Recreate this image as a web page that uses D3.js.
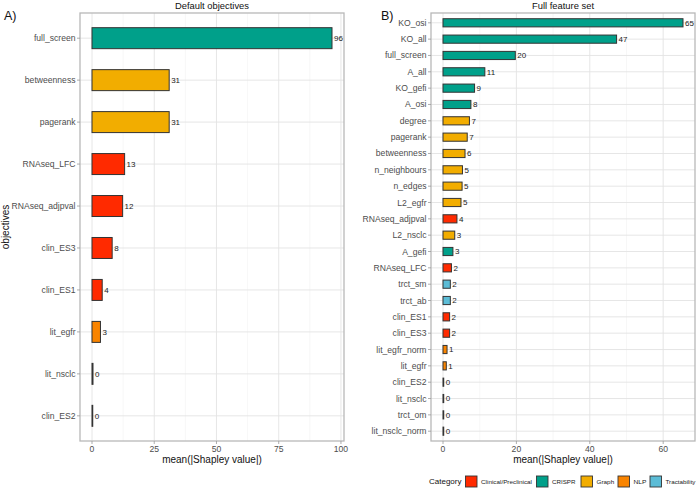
<!DOCTYPE html>
<html>
<head>
<meta charset="utf-8">
<script src="https://cdn.jsdelivr.net/npm/d3@7"></script>
<style>
  body { margin: 0; background: #fff; }
  svg { display: block; font-family: "Liberation Sans", Arial, sans-serif; }
</style>
</head>
<body>
<svg id="chart" width="698" height="489"></svg>
<script>
// ---------- DATA ----------
const objectivesA = ["full_screen","betweenness","pagerank","RNAseq_LFC","RNAseq_adjpval","clin_ES3","clin_ES1","lit_egfr","lit_nsclc","clin_ES2"];
const valuesA = [96.4, 31.0, 31.0, 13.1, 12.3, 8.1, 4.1, 3.4, 0.4, 0.3];
const categoriesA = ["CRISPR","Graph","Graph","Clinical/Preclinical","Clinical/Preclinical","Clinical/Preclinical","Clinical/Preclinical","NLP","NLP","Clinical/Preclinical"];

const featuresB = ["KO_osi","KO_all","full_screen","A_all","KO_gefi","A_osi","degree","pagerank","betweenness","n_neighbours","n_edges","L2_egfr","RNAseq_adjpval","L2_nsclc","A_gefi","RNAseq_LFC","trct_sm","trct_ab","clin_ES1","clin_ES3","lit_egfr_norm","lit_egfr","clin_ES2","lit_nsclc","trct_om","lit_nsclc_norm"];
const valuesB = [65.4, 47.3, 19.7, 11.4, 8.6, 7.6, 7.2, 6.6, 6.0, 5.3, 5.2, 4.9, 3.8, 3.2, 2.7, 2.3, 2.0, 2.0, 1.8, 1.8, 1.1, 0.9, 0.2, 0.2, 0.2, 0.2];
const categoriesB = ["CRISPR","CRISPR","CRISPR","CRISPR","CRISPR","CRISPR","Graph","Graph","Graph","Graph","Graph","Graph","Clinical/Preclinical","Graph","CRISPR","Clinical/Preclinical","Tractability","Tractability","Clinical/Preclinical","Clinical/Preclinical","NLP","NLP","Clinical/Preclinical","NLP","Tractability","NLP"];

const ticksA = [0, 25, 50, 75, 100];
const ticksB = [0, 20, 40, 60];

const categoryNames = ["Clinical/Preclinical","CRISPR","Graph","NLP","Tractability"];
const categoryColors = ["#FF2A00","#00A08A","#F2AD00","#F98400","#5BBCD6"];

// ---------- DRAW ----------
const svg = d3.select("#chart");
const color = d3.scaleOrdinal().domain(categoryNames).range(categoryColors);

function panel(opts) {
  const { left, right, top, bottom, names, values, cats, ticks, title, tag, tagX, barFrac } = opts;
  const max = d3.max(values);
  const x = d3.scaleLinear().domain([-0.05 * max, 1.05 * max]).range([left, right]);
  const n = names.length;
  const step = (bottom - top) / (n - 1 + 1.2);
  const y = d3.scalePoint().domain(names).range([top + 0.6 * step, bottom - 0.6 * step]);
  const g = svg.append("g");

  // minor grid
  const minor = [];
  for (let i = 0; i < ticks.length - 1; i++) minor.push((ticks[i] + ticks[i + 1]) / 2);
  const stepT = ticks[1] - ticks[0];
  minor.push(ticks[ticks.length - 1] + stepT / 2);
  g.selectAll("line.minor").data(minor.filter(v => x(v) > left && x(v) < right)).join("line")
    .attr("class", "minor")
    .attr("x1", d => x(d)).attr("x2", d => x(d)).attr("y1", top).attr("y2", bottom)
    .attr("stroke", "#F2F2F2").attr("stroke-width", 0.6);
  // major grid
  g.selectAll("line.majx").data(ticks).join("line")
    .attr("class", "majx")
    .attr("x1", d => x(d)).attr("x2", d => x(d)).attr("y1", top).attr("y2", bottom)
    .attr("stroke", "#E3E3E3").attr("stroke-width", 0.9);
  g.selectAll("line.majy").data(names).join("line")
    .attr("class", "majy")
    .attr("x1", left).attr("x2", right).attr("y1", d => y(d)).attr("y2", d => y(d))
    .attr("stroke", "#E3E3E3").attr("stroke-width", 0.9);

  // bars
  const bh = step * barFrac;
  const data = names.map((nm, i) => ({ nm, v: values[i], c: cats[i] }));
  g.selectAll("rect.bar").data(data).join("rect")
    .attr("class", "bar")
    .attr("x", x(0)).attr("y", d => y(d.nm) - bh / 2)
    .attr("width", d => x(d.v) - x(0)).attr("height", bh)
    .attr("fill", d => color(d.c)).attr("stroke", "#333333").attr("stroke-width", 1);
  // value labels
  g.selectAll("text.lbl").data(data).join("text")
    .attr("class", "lbl")
    .attr("x", d => x(d.v) + 2).attr("y", d => y(d.nm)).attr("dy", "0.35em")
    .attr("font-size", 8).attr("fill", "#222")
    .text(d => Math.round(d.v));

  // border
  g.append("rect").attr("x", left).attr("y", top).attr("width", right - left).attr("height", bottom - top)
    .attr("fill", "none").attr("stroke", "#B8B8B8").attr("stroke-width", 1.3);

  // y axis ticks + labels
  g.selectAll("line.yt").data(names).join("line")
    .attr("class", "yt")
    .attr("x1", left - 3).attr("x2", left).attr("y1", d => y(d)).attr("y2", d => y(d))
    .attr("stroke", "#999").attr("stroke-width", 0.8);
  g.selectAll("text.yl").data(names).join("text")
    .attr("class", "yl")
    .attr("x", left - 4.5).attr("y", d => y(d)).attr("dy", "0.35em")
    .attr("text-anchor", "end").attr("font-size", 8.6).attr("fill", "#4D4D4D")
    .text(d => d);

  // x axis
  g.selectAll("line.xt").data(ticks).join("line")
    .attr("class", "xt")
    .attr("x1", d => x(d)).attr("x2", d => x(d)).attr("y1", bottom).attr("y2", bottom + 3)
    .attr("stroke", "#999").attr("stroke-width", 0.8);
  g.selectAll("text.xl").data(ticks).join("text")
    .attr("class", "xl")
    .attr("x", d => x(d)).attr("y", bottom + 11)
    .attr("text-anchor", "middle").attr("font-size", 8.6).attr("fill", "#4D4D4D")
    .text(d => d);
  g.append("text").attr("x", (left + right) / 2).attr("y", bottom + 22)
    .attr("text-anchor", "middle").attr("font-size", 10).attr("fill", "#111")
    .text("mean(|Shapley value|)");

  // title
  g.append("text").attr("x", (left + right) / 2).attr("y", 9)
    .attr("text-anchor", "middle").attr("font-size", 9.4).attr("fill", "#111")
    .text(title);
  g.append("text").attr("x", tagX).attr("y", 20)
    .attr("font-size", 12.5).attr("fill", "#111").text(tag);
}

panel({ left: 80, right: 344, top: 13, bottom: 441, names: objectivesA, values: valuesA, cats: categoriesA,
        ticks: ticksA, title: "Default objectives", tag: "A)", tagX: 4, barFrac: 0.5 });
panel({ left: 431, right: 695, top: 13, bottom: 441, names: featuresB, values: valuesB, cats: categoriesB,
        ticks: ticksB, title: "Full feature set", tag: "B)", tagX: 381, barFrac: 0.5 });

// y axis title A
svg.append("text").attr("transform", "translate(9,227) rotate(-90)")
  .attr("text-anchor", "middle").attr("font-size", 10).attr("fill", "#111").text("objectives");

// legend
const lg = svg.append("g");
lg.append("text").attr("x", 429).attr("y", 484).attr("font-size", 8).attr("fill", "#111").text("Category");
const legX = [465.5, 536.5, 581, 618, 650];
const legW = [51, 23.5, 17.7, 13, 30];
categoryNames.forEach((c, i) => {
  lg.append("rect").attr("x", legX[i]).attr("y", 476).attr("width", 11.5).attr("height", 11)
    .attr("fill", color(c)).attr("stroke", "#333").attr("stroke-width", 0.9);
  lg.append("text").attr("x", legX[i] + 15.5).attr("y", 483.5).attr("font-size", 6.2).attr("fill", "#222")
    .attr("textLength", legW[i]).attr("lengthAdjust", "spacingAndGlyphs").text(c);
});
</script>
</body>
</html>
